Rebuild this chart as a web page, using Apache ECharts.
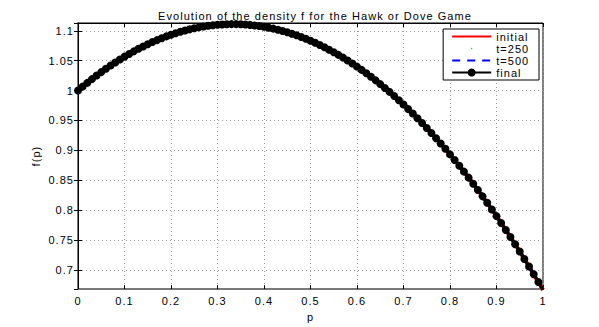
<!DOCTYPE html>
<html>
<head>
<meta charset="utf-8">
<script src="https://cdn.jsdelivr.net/npm/echarts@6/dist/echarts.min.js"></script>
<style>
  html, body { margin: 0; padding: 0; background: #fff; }
  #chart { width: 599px; height: 327px; }
  /* the reference text is drawn wide; widen it a little */
  #chart text { letter-spacing: 1.05px; }
</style>
</head>
<body>
<div id="chart"></div>
<script>
// p grid and density values
const pValues = [0,0.01,0.02,0.03,0.04,0.05,0.06,0.07,0.08,0.09,0.1,0.11,0.12,0.13,0.14,0.15,0.16,0.17,0.18,0.19,0.2,0.21,0.22,0.23,0.24,0.25,0.26,0.27,0.28,0.29,0.3,0.31,0.32,0.33,0.34,0.35,0.36,0.37,0.38,0.39,0.4,0.41,0.42,0.43,0.44,0.45,0.46,0.47,0.48,0.49,0.5,0.51,0.52,0.53,0.54,0.55,0.56,0.57,0.58,0.59,0.6,0.61,0.62,0.63,0.64,0.65,0.66,0.67,0.68,0.69,0.7,0.71,0.72,0.73,0.74,0.75,0.76,0.77,0.78,0.79,0.8,0.81,0.82,0.83,0.84,0.85,0.86,0.87,0.88,0.89,0.9,0.91,0.92,0.93,0.94,0.95,0.96,0.97,0.98,0.99,1];
const fInitial = [1,1.0066,1.0129,1.0191,1.0251,1.0308,1.0364,1.0418,1.0469,1.0519,1.0567,1.0612,1.0656,1.0698,1.0737,1.0775,1.0811,1.0844,1.0876,1.0906,1.0933,1.0959,1.0983,1.1004,1.1024,1.1042,1.1057,1.1071,1.1083,1.1092,1.11,1.1106,1.1109,1.1111,1.1111,1.1108,1.1104,1.1098,1.1089,1.1079,1.1067,1.1052,1.1036,1.1018,1.0997,1.0975,1.0951,1.0924,1.0896,1.0866,1.0833,1.0799,1.0763,1.0724,1.0684,1.0642,1.0597,1.0551,1.0503,1.0452,1.04,1.0346,1.0289,1.0231,1.0171,1.0108,1.0044,0.9978,0.9909,0.9839,0.9767,0.9692,0.9616,0.9538,0.9457,0.9375,0.9291,0.9204,0.9116,0.9026,0.8933,0.8839,0.8743,0.8644,0.8544,0.8442,0.8337,0.8231,0.8123,0.8012,0.79,0.7786,0.7669,0.7551,0.7431,0.7308,0.7184,0.7058,0.6929,0.6799,0.6667];
// the three later snapshots lie on top of the initial curve
const fT250 = fInitial.slice();
const fT500 = fInitial.slice();
const fFinal = fInitial.slice();

const pairs = arr => pValues.map((p, i) => [p, arr[i]]);

const chart = echarts.init(document.getElementById('chart'), null, { renderer: 'svg' });
const font = 'Liberation Sans';
const dotIcon = 'path://M0 0M10 10M4.3 5a0.7 0.7 0 1 0 1.4 0a0.7 0.7 0 1 0 -1.4 0';

const baseX = {
  type: 'value', min: 0, max: 1, interval: 0.1,
  axisTick: { inside: true, length: 4, lineStyle: { color: '#000' } },
  splitLine: { show: false }
};
const baseY = {
  type: 'value', min: 0.668, max: 1.113, splitNumber: 9,
  minInterval: 0.05, maxInterval: 0.05,
  axisTick: { inside: true, length: 4, lineStyle: { color: '#000' } },
  splitLine: { show: false }
};
const gridLine = { show: true, lineStyle: { color: '#999', type: [1, 3], width: 1 } };

chart.setOption({
  animation: false,
  backgroundColor: '#fff',
  title: {
    text: 'Evolution of the density f for the Hawk or Dove Game',
    left: 310, top: 5, textAlign: 'center',
    textStyle: { fontFamily: font, fontSize: 11, fontWeight: 'normal', color: '#000' }
  },
  grid: {
    left: 78, right: 56, top: 23, bottom: 37,
    show: true, borderColor: '#000', borderWidth: 1
  },
  legend: {
    orient: 'vertical', right: 60, top: 29,
    backgroundColor: '#fff', borderColor: '#000', borderWidth: 1,
    padding: [2, 15, 2, 8], itemGap: 1, itemWidth: 39, itemHeight: 10,
    textStyle: { fontFamily: font, fontSize: 11, color: '#000' },
    data: [
      { name: 'initial', itemStyle: { opacity: 0 } },
      { name: 't=250', icon: dotIcon, itemStyle: { color: '#00ee00' } },
      { name: 't=500', itemStyle: { opacity: 0 } },
      { name: 'final' }
    ]
  },
  xAxis: [
    Object.assign({}, baseX, {
      name: 'p', nameLocation: 'middle', nameGap: 12,
      nameTextStyle: { fontFamily: font, fontSize: 11, color: '#000' },
      axisLine: { lineStyle: { color: '#777', width: 2 } },
      axisLabel: { fontFamily: font, fontSize: 11, color: '#000', margin: 6 },
      splitLine: gridLine
    }),
    Object.assign({}, baseX, {
      position: 'top',
      axisLine: { lineStyle: { color: '#000' } },
      axisLabel: { show: false }
    })
  ],
  yAxis: [
    Object.assign({}, baseY, {
      name: 'f(p)', nameLocation: 'middle', nameGap: 37,
      nameTextStyle: { fontFamily: font, fontSize: 11, color: '#000' },
      axisLine: { lineStyle: { color: '#777', width: 2 } },
      axisLabel: { fontFamily: font, fontSize: 11, color: '#000', margin: 4, showMinLabel: false, showMaxLabel: false },
      splitLine: Object.assign({ showMinLine: false, showMaxLine: false }, gridLine)
    }),
    Object.assign({}, baseY, {
      position: 'right',
      axisLine: { lineStyle: { color: '#000' } },
      axisLabel: { show: false }
    })
  ],
  series: [
    {
      name: 'initial', type: 'line', data: pairs(fInitial),
      showSymbol: false, symbol: 'none',
      lineStyle: { color: '#ff0000', width: 4 }, itemStyle: { color: '#ff0000' }
    },
    {
      name: 't=250', type: 'line', data: pairs(fT250),
      symbol: 'circle', symbolSize: 2,
      lineStyle: { width: 0, opacity: 0 }, itemStyle: { color: '#00ee00' }
    },
    {
      name: 't=500', type: 'line', data: pairs(fT500),
      showSymbol: false, symbol: 'none',
      lineStyle: { color: '#0000ff', width: 3, type: [8, 7] }, itemStyle: { color: '#0000ff' }
    },
    {
      name: 'final', type: 'line', data: pairs(fFinal),
      symbol: 'circle', symbolSize: 8,
      lineStyle: { color: '#000', width: 3 }, itemStyle: { color: '#000' }
    }
  ]
});
</script>
</body>
</html>
